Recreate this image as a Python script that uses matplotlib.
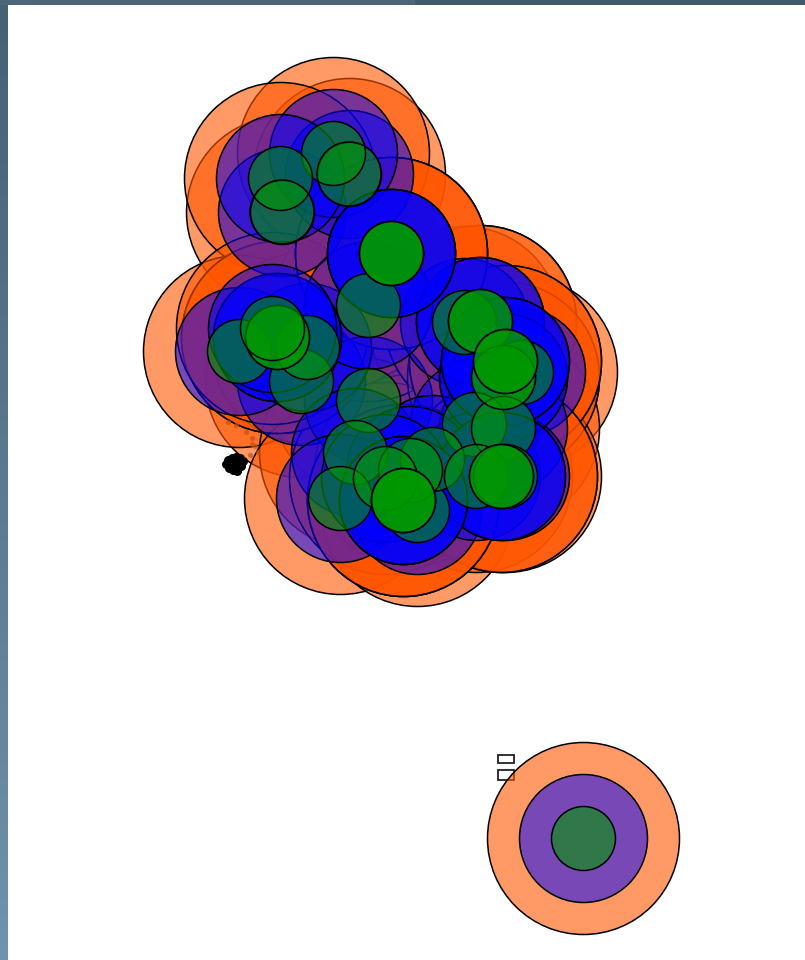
"""
Bubble chart with three nested rings per site, drawn on a pixel-sized canvas
"""

import numpy as np
import matplotlib.pyplot as plt
from matplotlib.patches import Rectangle

# bubble centres, in drawing order; repeats are stacked records
site_x = [282, 349, 333, 280, 301, 368, 239, 307, 521, 503, 464, 474, 503, 355, 340,
          417, 432, 476, 410, 385, 505, 368, 277, 277, 272, 480, 480, 503, 505, 505,
          501, 501, 403, 403, 403, 391, 391, 391, 583]
site_y = [212, 174, 153, 178, 381, 400, 351, 347, 372, 377, 322, 424, 428, 452, 498,
          510, 459, 476, 470, 478, 476, 305, 337, 337, 328, 321, 321, 377, 361, 361,
          476, 476, 500, 500, 500, 253, 253, 253, 838]

# sites whose green outline also shows through the later bubbles
outline_x = [282, 349]
outline_y = [212, 174]

# ring radii and colours, outermost first
ring_radius = [96, 64, 32]
ring_color = [(1.0, 0.333, 0.0, 0.6), (0.0, 0.0, 1.0, 0.53), (0.0, 0.6, 0.0, 0.6)]

# the small smudge left of the cluster
smudge_x = [226, 229, 233, 237, 241, 243, 228, 232, 236, 240, 233, 238]
smudge_y = [464, 468, 470, 471, 466, 461, 460, 458, 457, 458, 464, 464]
speck_x = [228, 236, 246, 252, 255, 250, 258, 252]
speck_y = [422, 425, 432, 438, 446, 455, 452, 444]

# two empty boxes next to the lone bubble
box_x = [498, 498]
box_y = [755, 770]
box_w = [16, 16]
box_h = [8, 10]

# window chrome around the plot
edge_top = np.array([[70, 96, 116]]) / 255
edge_bottom = np.array([[112, 146, 172]]) / 255


def size_from_radius(r, dpi):
    # scatter sizes are in points squared
    return (2 * r * 72 / dpi) ** 2


def plot_frame(ax):
    shade = np.linspace(0, 1, 64)[:, None, None]
    left = edge_top[None, :, :] * (1 - shade) + edge_bottom[None, :, :] * shade
    ax.imshow(left, extent=(0, 7, 960, 0), aspect='auto', zorder=6)
    ax.add_patch(Rectangle((0, 0), 805, 5, color='#3f5a6f', lw=0, zorder=6))
    ax.add_patch(Rectangle((0, 0), 415, 5, color='#4d6479', lw=0, zorder=6))


dpi = 100
fig = plt.figure(figsize=(8.05, 9.6), dpi=dpi)
ax = fig.add_axes([0, 0, 1, 1])
ax.set_axis_off()

for x, y, w, h in zip(box_x, box_y, box_w, box_h):
    ax.add_patch(Rectangle((x, y), w, h, fc='white', ec='#222222', lw=1.3, zorder=1))

for i, (r, c) in enumerate(zip(ring_radius, ring_color)):
    ax.scatter(
        site_x,
        site_y,
        s=size_from_radius(r, dpi),
        facecolors=[c],
        edgecolors='black',
        linewidths=1.1,
        zorder=2 + i
    )

ax.scatter(
    outline_x,
    outline_y,
    s=size_from_radius(ring_radius[2], dpi),
    facecolors='none',
    edgecolors='black',
    linewidths=1.1,
    zorder=4.5
)

ax.scatter(speck_x, speck_y, s=14, color='#c9500f', alpha=0.7, lw=0, zorder=3.5)
ax.scatter(smudge_x, smudge_y, s=42, color='black', lw=0, zorder=5)

plot_frame(ax)
ax.set_xlim(0, 805)
ax.set_ylim(960, 0)

fig.savefig('out.png', dpi=dpi)
